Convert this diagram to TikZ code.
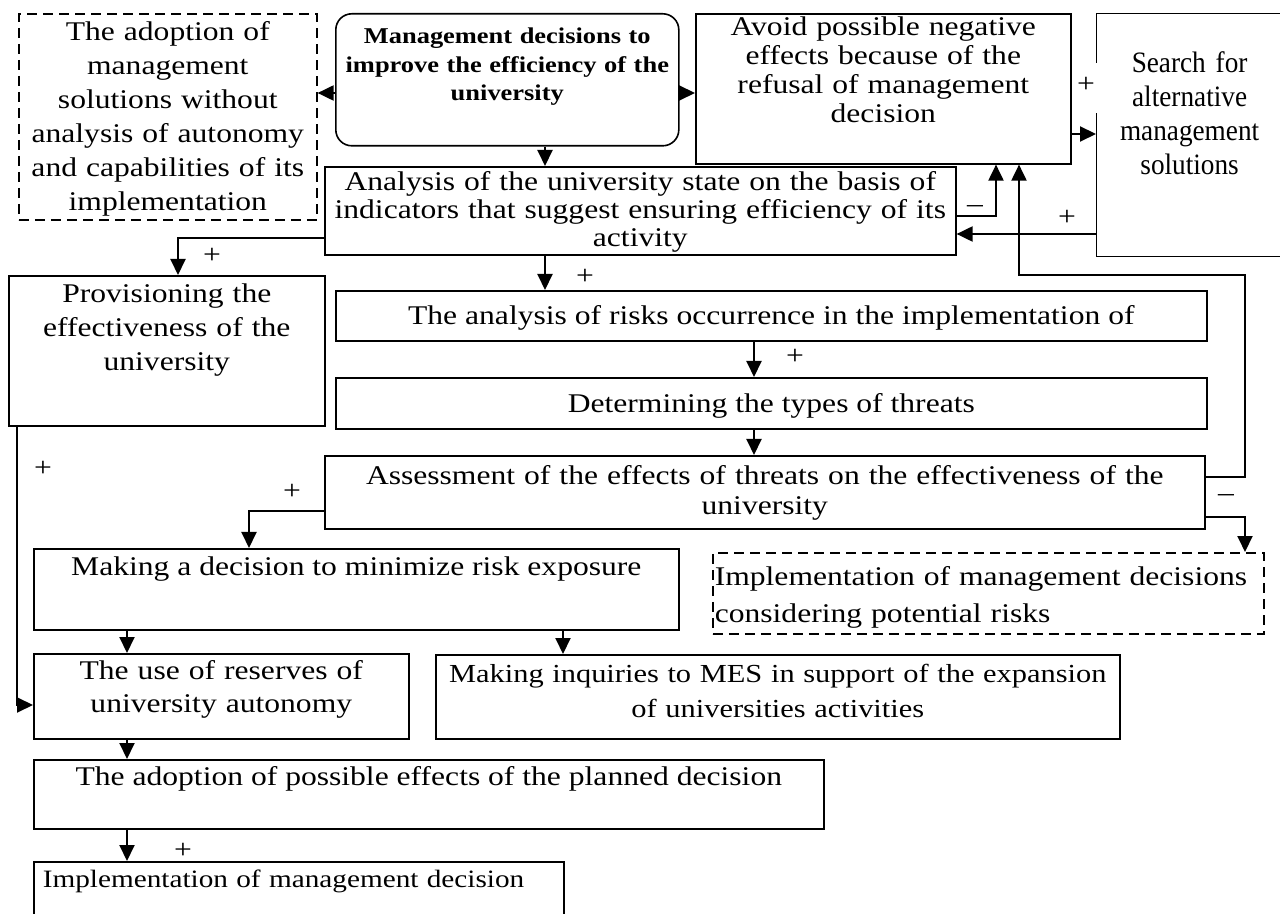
\documentclass[tikz,border=0pt]{standalone}
\usepackage{fontspec}
\setmainfont{Liberation Serif}[FakeStretch=1.17]
\newfontfamily\searchfont{Liberation Serif}[FakeStretch=0.92]
\usetikzlibrary{arrows.meta}

\begin{document}
\begin{tikzpicture}
    [x=0.5pt, y=-0.5pt,
    block/.style={draw, line width=0.8pt, anchor=north west, inner xsep=2pt, inner ysep=0pt, align=center},
    dblock/.style={block, dash pattern=on 5pt off 3pt},
    txt/.style={font=\fontsize{13.5}{#1}\selectfont},
    txt/.default=16pt,
    link/.style={line width=1pt, -{Triangle[length=8pt,width=7.5pt]}},
    sign/.style={font=\fontsize{13.5}{14}\selectfont, inner sep=0pt},
    ]

    \useasboundingbox (0,0) rectangle (1280,914);
    \clip (0,0) rectangle (1280,914);
    \fill[white] (0,0) rectangle (1280,914);

    %top row
    \node[dblock, text width=145pt, text height=13.5pt, text depth=89.5pt, txt=17pt] (adopt) at (18,13)
        {The adoption of\\ management\\ solutions without\\ analysis of autonomy\\ and capabilities of its\\ implementation};
    \node[block, rounded corners=8pt, text width=167.5pt, text height=15pt, text depth=51pt,
        font=\bfseries\fontsize{11.3}{14.2}\selectfont] (mgmt) at (335,13)
        {Management decisions to\\ improve the efficiency of the\\ university};
    \node[block, text width=183.5pt, text height=11pt, text depth=64pt, txt=14.5pt] (avoid) at (695,13)
        {Avoid possible negative\\ effects because of the\\ refusal of management\\ decision};
    \node[block, line width=0.6pt, text width=89pt, text height=29.5pt, text depth=92pt,
        font=\searchfont\fontsize{14.8}{17}\selectfont] (search) at (1096,13)
        {Search for\\ alternative\\ management\\ solutions};
    \fill[white] (1092,63) rectangle (1100,113);

    %analysis
    \node[block, text width=311.5pt, text height=12pt, text depth=32pt, txt=14pt] (analysis) at (324,166)
        {Analysis of the university state on the basis of\\ indicators that suggest ensuring efficiency of its\\ activity};
    \node[block, text width=154pt, text height=13.5pt, text depth=61.5pt, txt=17pt] (prov) at (8,275)
        {Provisioning the\\ effectiveness of the\\ university};
    \node[block, minimum width=435.5pt, text height=17pt, text depth=8pt, txt] (risks) at (335,290)
        {The analysis of risks occurrence in the implementation of};
    \node[block, minimum width=435.5pt, text height=17.5pt, text depth=8pt, txt] (determ) at (335,377)
        {Determining the types of threats};
    \node[block, text width=436pt, text height=14.5pt, text depth=22pt, txt=15pt] (assess) at (324,455)
        {Assessment of the effects of threats on the effectiveness of the\\ university};

    %decisions
    \node[block, minimum width=322.5pt, text height=13.5pt, text depth=27pt, txt] (making) at (33,548)
        {Making a decision to minimize risk exposure};
    \node[dblock, inner xsep=1pt, text width=273.5pt, align=left, text height=16.5pt, text depth=24pt, txt=18.5pt] (impl) at (712,552)
        {Implementation of management decisions\\ considering potential risks};
    \node[block, text width=183.5pt, text height=13pt, text depth=29.5pt, txt=16.5pt] (reserves) at (33,653)
        {The use of reserves of\\ university autonomy};
    \node[block, text width=338pt, text height=14pt, text depth=28pt, font=\fontsize{13}{17.5}\selectfont] (mes) at (435,654)
        {Making inquiries to MES in support of the expansion\\ of universities activities};
    \node[block, minimum width=395pt, text height=13pt, text depth=21.5pt, txt] (adoption) at (33,759)
        {The adoption of possible effects of the planned decision};
    \node[block, inner xsep=4.5pt, text width=256pt, align=left, text height=13pt, text depth=37pt,
        font=\fontsize{12.5}{15}\selectfont] (final) at (33,861)
        {Implementation of management decision};

    %rows and columns of the links
    \coordinate (rowA) at (0,93);
    \coordinate (rowB) at (0,238);
    \coordinate (rowC) at (0,216);
    \coordinate (rowD) at (0,234);
    \coordinate (rowE) at (0,134);
    \coordinate (rowF) at (0,477);
    \coordinate (rowG) at (0,517);
    \coordinate (rowH) at (0,511);
    \coordinate (rowI) at (0,705);
    \coordinate (colA) at (127,0);
    \coordinate (colB) at (545,0);
    \coordinate (colC) at (754,0);
    \coordinate (colD) at (996,0);
    \coordinate (colE) at (1019,0);
    \coordinate (colF) at (249,0);
    \coordinate (colG) at (17,0);
    \coordinate (colH) at (563,0);
    \coordinate (colP) at (178,0);
    \coordinate (loopR) at (1245,275);

    %links
    \draw[link] (mgmt.west |- rowA) -- (adopt.east |- rowA);
    \draw[link] (mgmt.east |- rowA) -- (avoid.west |- rowA);
    \draw[link] (mgmt.south -| colB) -- (analysis.north -| colB);
    \draw[link] (analysis.west |- rowB) -| (prov.north -| colP);
    \draw[link] (analysis.south -| colB) -- (risks.north -| colB);
    \draw[link] (analysis.east |- rowC) -| (avoid.south -| colD);
    \draw[link] (search.west |- rowD) -- (analysis.east |- rowD);
    \draw[link] (avoid.east |- rowE) -- (search.west |- rowE);
    \draw[link] (risks.south -| colC) -- (determ.north -| colC);
    \draw[link] (determ.south -| colC) -- (assess.north -| colC);
    \draw[link] (assess.east |- rowF) -| (loopR) -| (avoid.south -| colE);
    \draw[link] (assess.east |- rowG) -| (impl.north -| loopR);
    \draw[link] (assess.west |- rowH) -| (making.north -| colF);
    \draw[link] (prov.south -| colG) |- (reserves.west |- rowI);
    \draw[link] (making.south -| colA) -- (reserves.north -| colA);
    \draw[link] (making.south -| colH) -- (mes.north -| colH);
    \draw[link] (reserves.south -| colA) -- (adoption.north -| colA);
    \draw[link] (adoption.south -| colA) -- (final.north -| colA);

    %signs
    \node[sign] (s1) at (212,256) {+};
    \node[sign] (s2) at (585,277) {+};
    \node[sign] (s3) at (975,209) {\textendash};
    \node[sign] (s4) at (1067,218) {+};
    \node[sign] (s5) at (1086,85) {+};
    \node[sign] (s6) at (795,357) {+};
    \node[sign] (s7) at (1226,498) {\textendash};
    \node[sign] (s8) at (292,492) {+};
    \node[sign] (s9) at (43,469) {+};
    \node[sign] (s10) at (183,851) {+};
\end{tikzpicture}
\end{document}
